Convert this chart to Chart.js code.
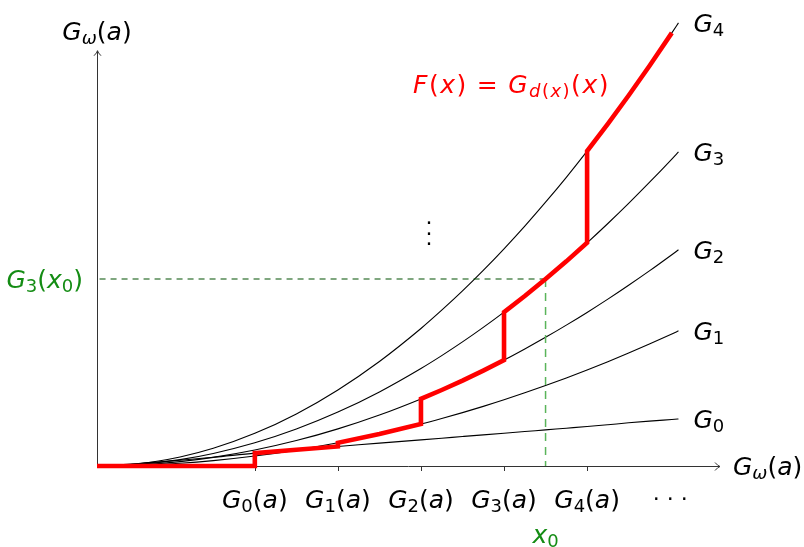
<!DOCTYPE html>
<html><head><meta charset="utf-8">
<script src="https://cdn.jsdelivr.net/npm/chart.js@4/dist/chart.umd.min.js"></script>
<style>html,body{margin:0;padding:0;background:#fff}canvas{display:block}</style>
</head><body>
<canvas id="c" width="804" height="547"></canvas>
<script>
// ---- data (1 unit = one tick spacing) ----
const xs = [0, 0.5, 1.0, 1.4, 1.9, 2.4, 2.9, 3.4, 3.9, 4.15, 4.4, 4.65, 4.9, 5.15, 5.4, 5.65, 5.9, 6.15, 6.4, 6.65, 6.92, 7.0];
const G0 = [0, 0.030, 0.070, 0.105, 0.155, 0.195, 0.235, 0.275, 0.315, 0.335, 0.355, 0.375, 0.395, 0.415, 0.435, 0.455, 0.475, 0.497, 0.520, 0.540, 0.560, 0.566];
const G1 = [0, 0.008, 0.033, 0.065, 0.120, 0.191, 0.279, 0.384, 0.505, 0.572, 0.643, 0.718, 0.797, 0.881, 0.968, 1.060, 1.156, 1.256, 1.360, 1.468, 1.590, 1.627];
const G2 = [0, 0.013, 0.053, 0.104, 0.192, 0.306, 0.447, 0.614, 0.808, 0.915, 1.028, 1.149, 1.275, 1.409, 1.549, 1.696, 1.849, 2.009, 2.176, 2.349, 2.544, 2.603];
const G3 = [0, 0.019, 0.077, 0.151, 0.279, 0.445, 0.649, 0.892, 1.174, 1.329, 1.494, 1.669, 1.853, 2.047, 2.251, 2.464, 2.687, 2.920, 3.162, 3.414, 3.696, 3.782];
const G4 = [0, 0.027, 0.109, 0.213, 0.393, 0.627, 0.916, 1.259, 1.656, 1.876, 2.108, 2.355, 2.615, 2.888, 3.176, 3.476, 3.791, 4.119, 4.461, 4.816, 5.215, 5.336];
const curves = [G0, G1, G2, G3, G4];
const curveNames = ['G_0', 'G_1', 'G_2', 'G_3', 'G_4'];
const tickValues = [1.9, 2.9, 3.9, 4.9, 5.9];
const tickLabels = ['G_0(a)', 'G_1(a)', 'G_2(a)', 'G_3(a)', 'G_4(a)'];
const dotsTick = 6.9;
const redEnd = 6.92;
const x0 = 5.4;
const xAxisEnd = 7.5;
const yAxisEnd = 5.0;
const axisLabel = 'G_ω(a)';
const fLabel = 'F(x) = G_{d(x)}(x)';
const x0Label = 'x_0';
const y0Label = 'G_3(x_0)';

// ---- build datasets from the arrays ----
const toPts = arr => xs.map((x, i) => ({x, y: arr[i]}));
const red = [{x: 0, y: 0}, {x: tickValues[0], y: 0}];
curves.forEach((c, k) => {
  const lo = tickValues[k];
  const hi = k < 4 ? tickValues[k + 1] : redEnd;
  xs.forEach((x, i) => { if (x >= lo - 1e-9 && x <= hi + 1e-9) red.push({x, y: c[i]}); });
});
const y0 = G3[xs.indexOf(x0)];

const FAM = '"DejaVu Sans", sans-serif';
function parseMath(s) {
  const out = []; let i = 0;
  while (i < s.length) {
    const c = s[i];
    if (c === '_') {
      i++; let g;
      if (s[i] === '{') { const j = s.indexOf('}', i); g = s.slice(i + 1, j); i = j + 1; }
      else { g = s[i]; i++; }
      for (const ch of g) out.push({t: ch, sub: true});
    } else { out.push({t: c, sub: false}); i++; }
  }
  return out;
}
function drawMath(ctx, s, x, y, size, color, align, extra) {
  extra = extra || 0;
  const subSize = Math.round(size * 0.7);
  const parts = parseMath(s);
  let w = 0;
  parts.forEach(p => {
    const sz = p.sub ? subSize : size;
    p.font = (/[A-Za-zω]/.test(p.t) ? 'italic ' : '') + sz + 'px ' + FAM;
    ctx.font = p.font;
    p.w = (p.t === ' ' ? size * 0.3 : ctx.measureText(p.t).width) + extra;
    w += p.w;
  });
  w -= extra;
  let cx = align === 'center' ? x - w / 2 : align === 'right' ? x - w : x;
  ctx.fillStyle = color; ctx.textBaseline = 'alphabetic'; ctx.textAlign = 'left';
  parts.forEach(p => {
    if (p.t !== ' ') { ctx.font = p.font; ctx.fillText(p.t, cx, y + (p.sub ? size * 0.17 : 0)); }
    cx += p.w;
  });
}

const decor = {
  id: 'decor',
  beforeDatasetsDraw(chart) {
    const ctx = chart.ctx, xS = chart.scales.x, yS = chart.scales.y;
    const ox = xS.getPixelForValue(0), oy = yS.getPixelForValue(0);
    const xe = xS.getPixelForValue(xAxisEnd), ye = yS.getPixelForValue(yAxisEnd);
    ctx.save();
    ctx.strokeStyle = '#333'; ctx.lineWidth = 1;
    ctx.beginPath();
    ctx.moveTo(ox, oy + 0.5); ctx.lineTo(xe, oy + 0.5);
    ctx.moveTo(ox + 0.5, oy); ctx.lineTo(ox + 0.5, ye);
    ctx.stroke();
    // arrow heads
    ctx.beginPath();
    ctx.moveTo(xe - 5, oy - 3.5); ctx.quadraticCurveTo(xe - 2, oy, xe, oy + 0.5); ctx.quadraticCurveTo(xe - 2, oy + 1, xe - 5, oy + 4.5);
    ctx.moveTo(ox - 3, ye + 5); ctx.quadraticCurveTo(ox, ye + 2, ox + 0.5, ye); ctx.quadraticCurveTo(ox + 1, ye + 2, ox + 4, ye + 5);
    ctx.stroke();
    // ticks
    ctx.beginPath();
    tickValues.forEach(v => { const p = Math.round(xS.getPixelForValue(v)) + 0.5; ctx.moveTo(p, oy); ctx.lineTo(p, oy + 5); });
    ctx.stroke();
    ctx.restore();
  },
  afterDraw(chart) {
    const ctx = chart.ctx, xS = chart.scales.x, yS = chart.scales.y;
    const S = 25;
    ctx.save();
    tickValues.forEach((v, i) => drawMath(ctx, tickLabels[i], xS.getPixelForValue(v), 508, S, '#000', 'center'));
    ctx.fillStyle = '#000'; ctx.font = '22px ' + FAM; ctx.textAlign = 'center'; ctx.textBaseline = 'alphabetic';
    const dx = xS.getPixelForValue(dotsTick);
    [-14, 0, 14].forEach(o => ctx.fillText('.', dx + o, 500));
    [222, 232.5, 243].forEach(y => ctx.fillText('.', 429, y + 2));
    curves.forEach((c, k) => drawMath(ctx, curveNames[k], xS.getPixelForValue(xs[xs.length - 1]) + 15,
      yS.getPixelForValue(c[c.length - 1]) + 9, S, '#000', 'left'));
    drawMath(ctx, axisLabel, xS.getPixelForValue(0), 40, S, '#000', 'center');
    drawMath(ctx, axisLabel, xS.getPixelForValue(xAxisEnd) + 13, 475, S, '#000', 'left');
    drawMath(ctx, fLabel, 413, 93, S, '#ff0000', 'left', 1.5);
    drawMath(ctx, x0Label, xS.getPixelForValue(x0), 543, S, 'rgb(20,140,20)', 'center');
    drawMath(ctx, y0Label, 83, yS.getPixelForValue(y0) + 9, S, 'rgb(20,140,20)', 'right');
    ctx.restore();
  }
};

const black = (arr, name, order) => ({
  label: name, data: toPts(arr), borderColor: '#000', borderWidth: 1.1, pointRadius: 0,
  cubicInterpolationMode: 'monotone', fill: false, order, clip: false
});

new Chart(document.getElementById('c'), {
  type: 'line',
  data: {
    datasets: [
      {label: 'F', data: red, borderColor: '#ff0000', borderWidth: 4.6, pointRadius: 0, tension: 0,
        borderJoinStyle: 'miter', fill: false, order: 0, clip: false},
      black(G0, 'G0', 2), black(G1, 'G1', 2), black(G2, 'G2', 2), black(G3, 'G3', 2), black(G4, 'G4', 2),
      {label: 'h', data: [{x: x0, y: y0}, {x: 0, y: y0}], borderColor: 'rgb(0,80,0)', borderWidth: 1.1,
        borderDash: [6, 5], pointRadius: 0, tension: 0, order: 1, clip: false},
      {label: 'v', data: [{x: x0, y: y0}, {x: x0, y: 0}], borderColor: 'rgb(90,180,90)', borderWidth: 1.5,
        borderDash: [8, 6], pointRadius: 0, tension: 0, order: 1, clip: false}
    ]
  },
  options: {
    responsive: false, animation: false, devicePixelRatio: 1,
    layout: {padding: {left: 97, right: 84, top: 20, bottom: 81}},
    scales: {
      x: {type: 'linear', min: 0, max: xAxisEnd, display: false},
      y: {type: 'linear', min: 0, max: 5.37, display: false}
    },
    plugins: {legend: {display: false}, tooltip: {enabled: false}}
  },
  plugins: [decor]
});
</script>
</body></html>
